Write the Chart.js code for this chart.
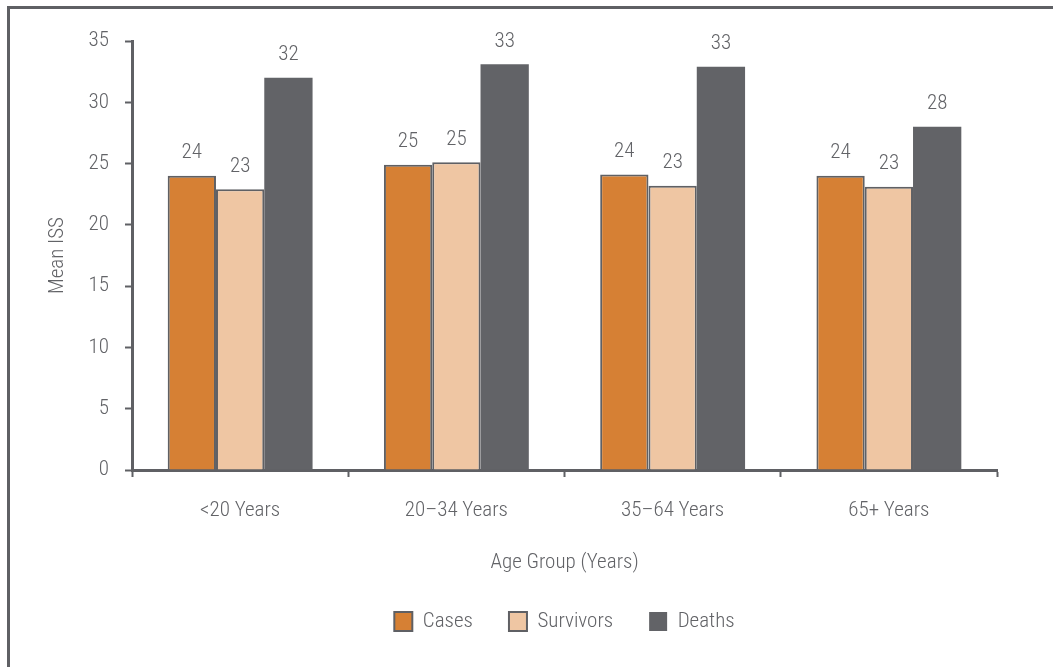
<!DOCTYPE html>
<html>
<head>
<meta charset="utf-8">
<script src="https://cdn.jsdelivr.net/npm/chart.js@4"></script>
<style>
  html, body { margin: 0; padding: 0; background: #fff; overflow: hidden; }
  #wrap { position: relative; width: 1053px; height: 667px; }
  #frame {
    position: absolute; left: 7px; top: 6px; width: 1100px; height: 700px;
    border-left: 3px solid #5f6064; border-top: 3px solid #5f6064;
  }
  canvas { position: absolute; left: 0; top: 0; }
</style>
</head>
<body>
<div id="wrap">
  <div id="frame"></div>
  <canvas id="grafico" width="1053" height="667"></canvas>
</div>
<script>
// datos
const categorias = ['<20 Years', '20–34 Years', '35–64 Years', '65+ Years'];
const casos = [24.0, 24.9, 24.1, 24.0];
const sobrevivientes = [22.9, 25.1, 23.2, 23.1];
const muertes = [32.0, 33.1, 32.9, 28.0];
const yMin = 0, yMax = 35, yPaso = 5;

const gris = '#5f6064';
const texto = '#626367';
const fuente = "'Roboto Condensed', 'Roboto', sans-serif";
const tam = 21;

// etiquetas de valor encima de cada barra
const etiquetas = {
    id: 'etiquetas',
    afterDatasetsDraw(chart) {
        const ctx = chart.ctx;
        ctx.save();
        ctx.font = '300 ' + tam + 'px ' + fuente;
        ctx.fillStyle = texto;
        ctx.textAlign = 'center';
        ctx.textBaseline = 'middle';
        chart.data.datasets.forEach((ds, i) => {
            chart.getDatasetMeta(i).data.forEach((bar, j) => {
                ctx.fillText(Math.round(ds.data[j]), bar.x, bar.y - 23);
            });
        });
        ctx.restore();
    }
};

window.onload = function () {
    Chart.defaults.font.family = fuente;
    Chart.defaults.font.size = tam;
    Chart.defaults.font.weight = '300';
    Chart.defaults.color = texto;

    new Chart(document.getElementById('grafico'), {
        type: 'bar',
        data: {
            labels: categorias,
            datasets: [
                { label: 'Cases', data: casos, backgroundColor: '#d68034', borderColor: gris, borderWidth: 2 },
                { label: 'Survivors', data: sobrevivientes, backgroundColor: '#efc6a3', borderColor: gris, borderWidth: 2 },
                { label: 'Deaths', data: muertes, backgroundColor: '#626367', borderColor: '#626367', borderWidth: 0 }
            ]
        },
        options: {
            responsive: false,
            animation: false,
            datasets: { bar: { categoryPercentage: 0.67, barPercentage: 1 } },
            layout: { padding: { left: 45, right: 56, top: 41, bottom: 25 } },
            plugins: {
                tooltip: { enabled: false },
                legend: {
                    position: 'bottom',
                    fullSize: false,
                    labels: { boxWidth: 18, boxHeight: 19, padding: 36 }
                }
            },
            scales: {
                x: {
                    grid: { drawOnChartArea: false, drawTicks: true, tickLength: 7, tickWidth: 2, tickColor: gris, offset: true },
                    border: { color: gris, width: 3 },
                    ticks: { padding: 21 },
                    title: { display: true, text: 'Age Group (Years)', padding: { top: 0, bottom: 0 } },
                    afterFit(s) { s.height = 105; }
                },
                y: {
                    min: yMin, max: yMax,
                    grid: { drawOnChartArea: false, drawTicks: true, tickLength: 7, tickWidth: 2, tickColor: gris },
                    border: { color: gris, width: 3 },
                    ticks: { stepSize: yPaso, padding: 16 },
                    title: { display: true, text: 'Mean ISS', padding: 0 },
                    afterFit(s) { s.width = 87; }
                }
            }
        },
        plugins: [etiquetas]
    });
};
</script>
</body>
</html>
